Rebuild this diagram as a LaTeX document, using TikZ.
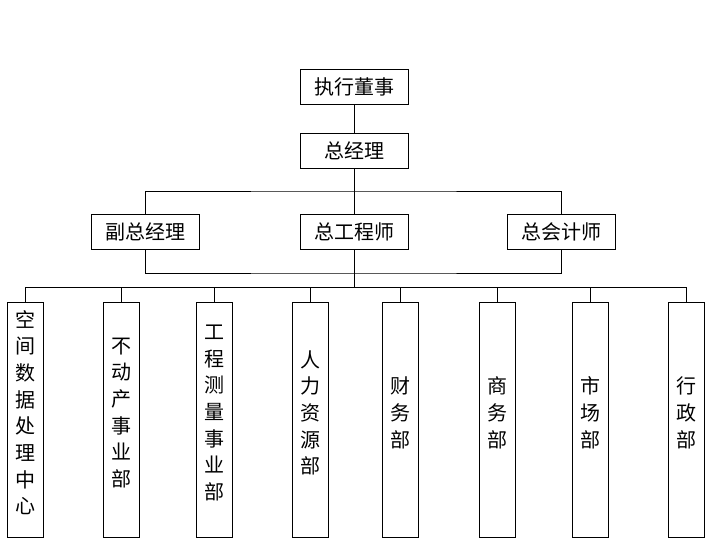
\documentclass[tikz,border=0pt]{standalone}
\usepackage{fontspec}
\newfontfamily\cjk{Noto Sans CJK SC}
\begin{document}
\begin{tikzpicture}[x=0.75pt,y=-0.75pt,line width=0.75pt,font=\cjk\fontsize{15}{20}\selectfont]
	\tikzset{box/.style={draw,minimum width=81pt,minimum height=26.25pt,inner sep=0pt},
		dept/.style={draw,minimum width=27pt,minimum height=176.25pt,inner sep=0pt,align=center}}
	\useasboundingbox (0,0) rectangle (709,539);
	\node[box] (dsh) at (354,86.5) {执行董事};
	\node[box] (zjl) at (354,150.5) {总经理};
	\node[box] (fzjl) at (145,232) {副总经理};
	\node[box] (zgcs) at (354,232) {总工程师};
	\node[box] (zkjs) at (561,232) {总会计师};
	\coordinate (up) at (354,191);
	\coordinate (low) at (354,273);
	\coordinate (bus) at (354,287);
	\foreach \n/\x/\t in {1/25/{空\\间\\数\\据\\处\\理\\中\\心},2/121/{不\\动\\产\\事\\业\\部},
		3/214/{工\\程\\测\\量\\事\\业\\部},4/310/{人\\力\\资\\源\\部},5/400/{财\\务\\部},
		6/497/{商\\务\\部},7/590/{市\\场\\部},8/686/{行\\政\\部}}
		\node[dept] (bm\n) at (\x,419.5) {\t\\[-9pt]\mbox{}};
	\draw (dsh) -- (zjl);
	\draw (zjl) -- (zgcs);
	\draw (fzjl.north) |- (up) -| (zkjs.north);
	\draw (fzjl.south) |- (low) -| (zkjs.south);
	\draw (zgcs) -- (bus);
	\draw (bm1.north) -- (bm1.north |- bus) -- (bm8.north |- bus) -- (bm8.north);
	\foreach \n in {2,...,7} \draw (bm\n.north) -- (bm\n.north |- bus);
\end{tikzpicture}
\end{document}
